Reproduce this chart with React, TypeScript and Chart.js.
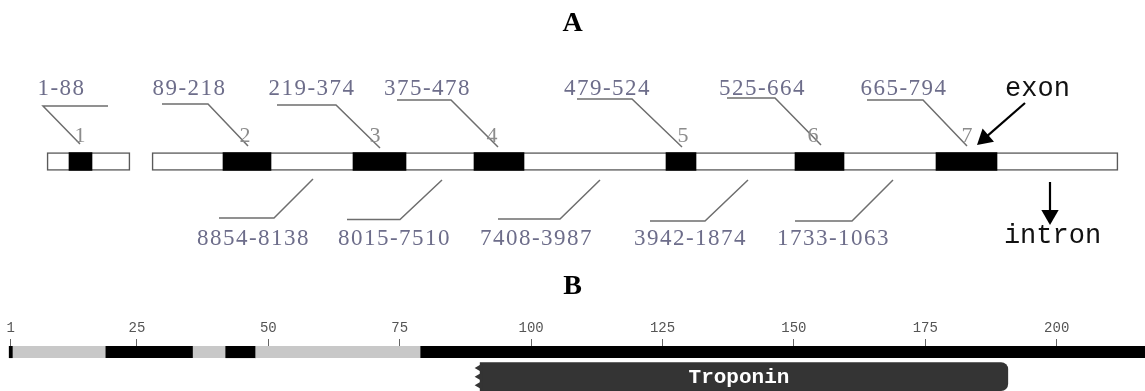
import React, { useEffect, useRef } from 'react';
import { Chart, registerables } from 'chart.js';

Chart.register(...registerables);

// ---------------- Panel A: gene structure (diagram units along the drawing) ----------------
const geneBlocks: [number, number][] = [[47, 130], [152, 1118]];
const exonSpans: [number, number][] = [
  [69, 92], [223, 271], [353, 406], [474, 524], [666, 696], [795, 844], [936, 997],
];
const exonRangeLabels = ['1-88', '89-218', '219-374', '375-478', '479-524', '525-664', '665-794'];
const exonRangeLabelX = [61.5, 189.5, 312, 427.5, 607.5, 762.5, 904];
const exonNumbers = ['1', '2', '3', '4', '5', '6', '7'];
const exonNumberX = [80, 245, 375, 492, 683, 813, 967];
const exonLeaderStartX = [108, 162, 277, 397, 577, 727, 867];
const exonLeaderElbowX = [43, 208, 336, 451, 632, 775, 923];
const exonLeaderTipX = [80, 248, 380, 498, 682, 821, 967];
const exonLeaderLevel = [55.5, 57.5, 56.5, 61.5, 62.5, 63.5, 61.5];
const exonLeaderTipLevel = [17.5, 15.5, 13.5, 14.5, 14.5, 16.5, 15.5];

const intronLabels = ['8854-8138', '8015-7510', '7408-3987', '3942-1874', '1733-1063'];
const intronLabelX = [253.5, 394.5, 536.5, 690.5, 833.5];
const intronLeaderStartX = [219, 347, 498, 650, 795];
const intronLeaderElbowX = [274, 400, 560, 705, 852];
const intronLeaderTipX = [313, 442, 600, 748, 893];
const intronLeaderLevel = [-56.5, -58, -57.5, -59.5, -59.5];
const intronLeaderTipLevel = [-17.5, -18.5, -18.5, -18.5, -18.5];

const rangeLabelLevel = 66.5;
const exonNumberLevel = 19.5;
const intronLabelLevel = -83.5;

const arrowWords = ['exon', 'intron'];
const arrowWordX = [1037.5, 1052.5];
const arrowWordLevel = [65.5, -81.5];
const arrowFrom: [number, number][] = [[1025, 58.5], [1050, -20.5]];
const arrowTo: [number, number][] = [[977, 16.5], [1050, -63.5]];

// ---------------- Panel B: protein (residues) ----------------
const residueTicks = [1, 25, 50, 75, 100, 125, 150, 175, 200];
const proteinSegments: [number, number][] = [
  [1, 19.1], [19.1, 35.7], [35.7, 41.9], [41.9, 47.6], [47.6, 79], [79, 217], [0.7, 1.3],
];
const proteinSegmentKinds = ['plain', 'marked', 'plain', 'marked', 'plain', 'marked', 'marked'];
const domainNames = ['Troponin'];
const domainSpans: [number, number][] = [[90.3, 190.7]];

const HEAD = 10;
const serif = '"Liberation Serif", "Times New Roman", serif';
const mono = '"Liberation Mono", "DejaVu Sans Mono", monospace';

const geneTextPlugin = {
  id: 'geneText',
  afterDatasetsDraw(chart: any) {
    const { ctx } = chart;
    const x = chart.scales.x;
    const y = chart.scales.y;
    ctx.save();
    ctx.textAlign = 'center';
    ctx.textBaseline = 'alphabetic';
    ctx.font = `23px ${serif}`;
    ctx.fillStyle = '#6d6d8a';
    (ctx as any).letterSpacing = '1.5px';
    exonRangeLabels.forEach((t, i) =>
      ctx.fillText(t, x.getPixelForValue(exonRangeLabelX[i]), y.getPixelForValue(rangeLabelLevel)));
    intronLabels.forEach((t, i) =>
      ctx.fillText(t, x.getPixelForValue(intronLabelX[i]), y.getPixelForValue(intronLabelLevel)));
    (ctx as any).letterSpacing = '0px';
    ctx.font = `22px ${serif}`;
    ctx.fillStyle = '#8c8c8c';
    exonNumbers.forEach((t, i) =>
      ctx.fillText(t, x.getPixelForValue(exonNumberX[i]), y.getPixelForValue(exonNumberLevel)));
    ctx.font = `27px ${mono}`;
    ctx.fillStyle = '#111';
    arrowWords.forEach((t, i) =>
      ctx.fillText(t, x.getPixelForValue(arrowWordX[i]), y.getPixelForValue(arrowWordLevel[i])));
    ctx.restore();
  },
};

const domainTextPlugin = {
  id: 'domainText',
  afterDatasetsDraw(chart: any) {
    const meta = chart.getDatasetMeta(1);
    const { ctx } = chart;
    ctx.save();
    ctx.font = `bold 21px ${mono}`;
    ctx.fillStyle = '#ffffff';
    ctx.textAlign = 'center';
    ctx.textBaseline = 'middle';
    meta.data.forEach((el: any, i: number) => {
      const c = el.getCenterPoint();
      ctx.fillText(domainNames[i], c.x - 5, c.y + 1);
    });
    ctx.restore();
  },
};

export default function App() {
  const refA = useRef<HTMLCanvasElement>(null);
  const refB = useRef<HTMLCanvasElement>(null);

  useEffect(() => {
    document.body.style.margin = '0';

    const leader = (pts: { x: number; y: number }[]) => ({
      type: 'line',
      indexAxis: 'x',
      data: pts,
      borderColor: '#6e6e6e',
      borderWidth: 1.5,
      pointRadius: 0,
      fill: false,
      tension: 0,
      order: 1,
    });

    const exonLeaders = exonLeaderStartX.map((sx, i) =>
      leader([
        { x: sx, y: exonLeaderLevel[i] },
        { x: exonLeaderElbowX[i], y: exonLeaderLevel[i] },
        { x: exonLeaderTipX[i], y: exonLeaderTipLevel[i] },
      ]));
    const intronLeaders = intronLeaderStartX.map((sx, i) =>
      leader([
        { x: sx, y: intronLeaderLevel[i] },
        { x: intronLeaderElbowX[i], y: intronLeaderLevel[i] },
        { x: intronLeaderTipX[i], y: intronLeaderTipLevel[i] },
      ]));

    const heads = arrowFrom.map((f, i) => {
      const t = arrowTo[i];
      const dx = t[0] - f[0];
      const dy = t[1] - f[1];
      const len = Math.hypot(dx, dy);
      return {
        x: t[0] - (dx / len) * HEAD,
        y: t[1] - (dy / len) * HEAD,
        rot: (Math.atan2(-dy, dx) * 180) / Math.PI + 90,
      };
    });
    const shafts = arrowFrom.map((f, i) => ({
      type: 'line',
      indexAxis: 'x',
      data: [{ x: f[0], y: f[1] }, { x: heads[i].x, y: heads[i].y }],
      borderColor: '#000',
      borderWidth: 2.2,
      pointRadius: 0,
      fill: false,
      order: 1,
    }));

    const chartA = new Chart(refA.current!, {
      type: 'bar',
      data: {
        datasets: [
          {
            type: 'bar',
            indexAxis: 'y',
            data: geneBlocks.map((b) => ({ x: b, y: 0 })),
            backgroundColor: '#ffffff',
            borderColor: '#5a5a5a',
            borderWidth: 1.6,
            borderSkipped: false,
            barThickness: 18,
            grouped: false,
            order: 3,
          },
          {
            type: 'bar',
            indexAxis: 'y',
            data: exonSpans.map((s) => ({ x: s, y: 0 })),
            backgroundColor: '#000000',
            borderWidth: 0,
            barThickness: 18,
            grouped: false,
            order: 2,
          },
          ...exonLeaders,
          ...intronLeaders,
          ...shafts,
          {
            type: 'scatter',
            indexAxis: 'x',
            data: heads.map((h) => ({ x: h.x, y: h.y })),
            pointStyle: 'triangle',
            pointRadius: HEAD,
            pointRotation: heads.map((h) => h.rot),
            backgroundColor: '#000',
            borderWidth: 0,
            order: 0,
          },
        ] as any,
      },
      options: {
        animation: false,
        responsive: false,
        devicePixelRatio: 1,
        events: [],
        layout: { padding: 0, autoPadding: false },
        plugins: {
          legend: { display: false },
          tooltip: { enabled: false },
          title: {
            display: true,
            text: 'A',
            color: '#000',
            font: { family: serif, size: 28, weight: 'bold' },
            padding: { top: 6.7, bottom: 0 },
          },
        },
        scales: {
          x: { type: 'linear', min: 0, max: 1145, offset: false, display: false, grid: { offset: false } },
          y: { type: 'linear', min: -98.5, max: 121.2, offset: false, display: false, grid: { offset: false } },
        },
      } as any,
      plugins: [geneTextPlugin],
    });

    const kindColor: Record<string, string> = { plain: '#c8c8c8', marked: '#000000' };
    const jagLevels = [-0.35, 0, 0.35];

    const chartB = new Chart(refB.current!, {
      type: 'bar',
      data: {
        datasets: [
          {
            type: 'bar',
            indexAxis: 'y',
            data: proteinSegments.map((s) => ({ x: s, y: 0 })),
            backgroundColor: proteinSegmentKinds.map((k) => kindColor[k]),
            borderWidth: 0,
            barThickness: 12,
            grouped: false,
            order: 2,
          },
          {
            type: 'bar',
            indexAxis: 'y',
            data: domainSpans.map((s) => ({ x: s, y: 1 })),
            backgroundColor: '#343434',
            borderWidth: 0,
            borderSkipped: false,
            borderRadius: { topLeft: 0, bottomLeft: 0, topRight: 7, bottomRight: 7 },
            barThickness: 28,
            grouped: false,
            order: 2,
          },
          {
            type: 'scatter',
            indexAxis: 'x',
            data: domainSpans.flatMap((s) => jagLevels.map((d) => ({ x: s[0], y: 1 + d }))),
            pointStyle: 'triangle',
            pointRadius: 5.5,
            pointRotation: 270,
            backgroundColor: '#343434',
            borderWidth: 0,
            order: 1,
          },
        ] as any,
      },
      options: {
        animation: false,
        responsive: false,
        devicePixelRatio: 1,
        events: [],
        layout: { padding: 0, autoPadding: false },
        plugins: {
          legend: { display: false },
          tooltip: { enabled: false },
          title: {
            display: true,
            text: 'B',
            color: '#000',
            font: { family: serif, size: 28, weight: 'bold' },
            padding: { top: 10.2, bottom: 14.4 },
          },
        },
        scales: {
          x: {
            type: 'linear',
            position: 'top',
            min: -1.046,
            max: 216.8,
            offset: false,
            afterBuildTicks: (scale: any) => {
              scale.ticks = residueTicks.map((v) => ({ value: v }));
            },
            ticks: {
              autoSkip: false,
              maxRotation: 0,
              padding: 2,
              color: '#555',
              font: { family: mono, size: 14 },
              callback: (v: any) => String(v),
            },
            grid: {
              display: true,
              offset: false,
              drawOnChartArea: false,
              drawTicks: true,
              tickLength: 7,
              color: '#666',
              lineWidth: 1,
            },
            border: { display: false },
          },
          y: {
            type: 'linear',
            reverse: true,
            min: -0.2308,
            max: 1.5769,
            offset: false,
            display: false,
            grid: { offset: false },
          },
        },
      } as any,
      plugins: [domainTextPlugin],
    });

    return () => {
      chartA.destroy();
      chartB.destroy();
    };
  }, []);

  return (
    <div style={{ width: 1145, height: 391, background: '#fff' }}>
      <canvas ref={refA} width={1145} height={260} style={{ display: 'block' }} />
      <canvas ref={refB} width={1145} height={131} style={{ display: 'block' }} />
    </div>
  );
}
